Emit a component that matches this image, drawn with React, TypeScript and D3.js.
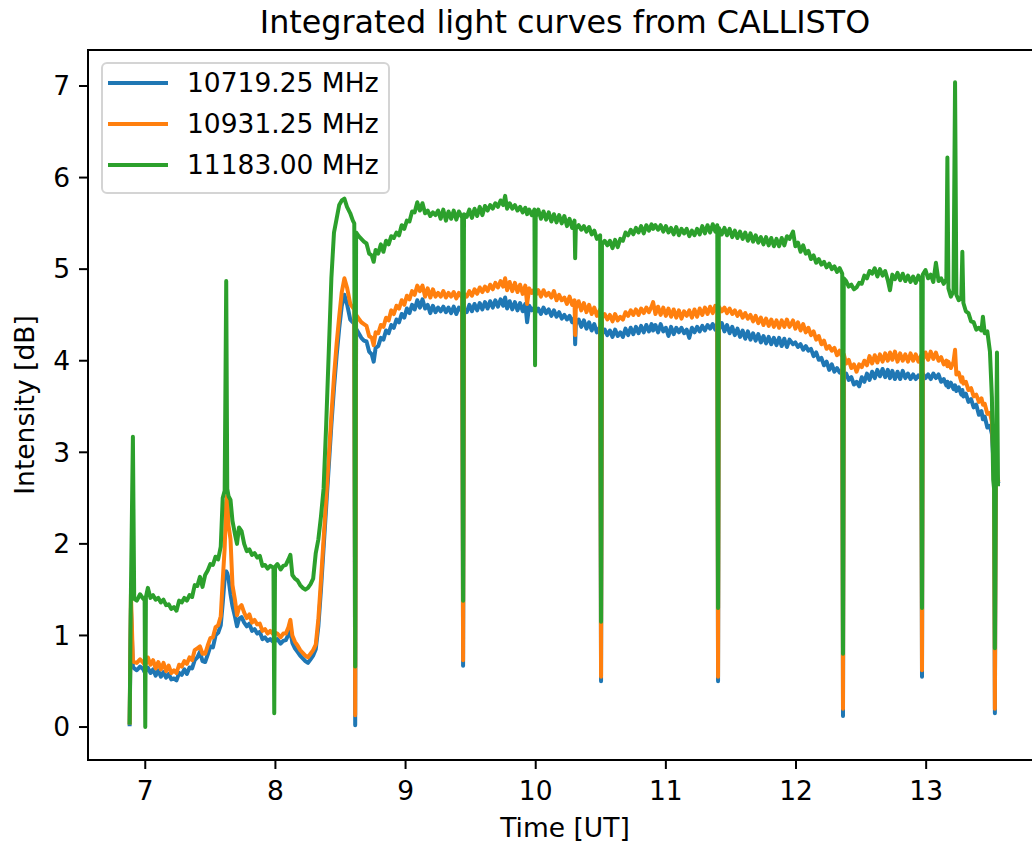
import React from 'react';
import * as d3 from 'd3';

// ---- data (time in UT hours, intensities in dB) ----
const times = [
  6.880, 6.890, 6.905, 6.915, 6.935, 6.960, 6.985, 6.995, 7.000, 7.005,
  7.020, 7.040, 7.060, 7.080, 7.100, 7.120, 7.140, 7.160, 7.180, 7.200,
  7.220, 7.240, 7.260, 7.280, 7.300, 7.320, 7.340, 7.360, 7.380, 7.400,
  7.420, 7.440, 7.460, 7.480, 7.500, 7.520, 7.540, 7.560, 7.580, 7.595,
  7.610, 7.622, 7.630, 7.640, 7.655, 7.670, 7.690, 7.705, 7.720, 7.740,
  7.760, 7.780, 7.800, 7.820, 7.840, 7.860, 7.880, 7.900, 7.920, 7.940,
  7.960, 7.985, 7.991, 7.997, 8.015, 8.040, 8.060, 8.080, 8.100, 8.115,
  8.130, 8.150, 8.170, 8.190, 8.210, 8.230, 8.250, 8.270, 8.290, 8.310,
  8.330, 8.350, 8.370, 8.390, 8.410, 8.430, 8.450, 8.470, 8.490, 8.510,
  8.530, 8.550, 8.575, 8.595, 8.606, 8.613, 8.620, 8.640, 8.660, 8.680,
  8.700, 8.720, 8.740, 8.755, 8.770, 8.790, 8.810, 8.830, 8.850, 8.870,
  8.890, 8.910, 8.930, 8.950, 8.970, 8.990, 9.010, 9.030, 9.050, 9.070,
  9.090, 9.110, 9.130, 9.150, 9.170, 9.190, 9.210, 9.230, 9.250, 9.270,
  9.290, 9.310, 9.330, 9.350, 9.370, 9.390, 9.410, 9.435, 9.442, 9.449,
  9.470, 9.490, 9.510, 9.530, 9.550, 9.570, 9.590, 9.610, 9.630, 9.650,
  9.670, 9.690, 9.710, 9.730, 9.750, 9.765, 9.780, 9.800, 9.820, 9.840,
  9.860, 9.880, 9.900, 9.920, 9.934, 9.950, 9.970, 9.990, 9.995, 10.000,
  10.020, 10.040, 10.060, 10.080, 10.100, 10.120, 10.140, 10.160, 10.180, 10.200,
  10.220, 10.240, 10.260, 10.280, 10.298, 10.303, 10.308, 10.330, 10.350, 10.370,
  10.390, 10.410, 10.430, 10.450, 10.470, 10.495, 10.502, 10.509, 10.530, 10.550,
  10.570, 10.590, 10.610, 10.630, 10.650, 10.670, 10.690, 10.710, 10.730, 10.750,
  10.770, 10.790, 10.810, 10.830, 10.850, 10.870, 10.890, 10.902, 10.920, 10.940,
  10.960, 10.980, 11.000, 11.020, 11.040, 11.060, 11.080, 11.100, 11.120, 11.140,
  11.160, 11.180, 11.200, 11.220, 11.240, 11.260, 11.280, 11.300, 11.320, 11.340,
  11.360, 11.380, 11.395, 11.401, 11.407, 11.430, 11.450, 11.470, 11.490, 11.510,
  11.530, 11.550, 11.570, 11.590, 11.610, 11.630, 11.650, 11.670, 11.690, 11.710,
  11.730, 11.750, 11.770, 11.790, 11.810, 11.830, 11.850, 11.870, 11.890, 11.910,
  11.930, 11.950, 11.977, 11.995, 12.015, 12.035, 12.055, 12.075, 12.095, 12.115,
  12.135, 12.155, 12.175, 12.195, 12.215, 12.235, 12.255, 12.275, 12.295, 12.315,
  12.335, 12.355, 12.361, 12.367, 12.385, 12.405, 12.425, 12.445, 12.465, 12.485,
  12.505, 12.525, 12.545, 12.565, 12.585, 12.605, 12.625, 12.645, 12.665, 12.685,
  12.705, 12.722, 12.740, 12.760, 12.780, 12.800, 12.820, 12.840, 12.860, 12.880,
  12.900, 12.920, 12.940, 12.962, 12.968, 12.974, 12.995, 13.015, 13.035, 13.055,
  13.075, 13.095, 13.115, 13.135, 13.155, 13.163, 13.171, 13.190, 13.210, 13.222,
  13.232, 13.250, 13.270, 13.278, 13.286, 13.305, 13.325, 13.345, 13.365, 13.385,
  13.405, 13.425, 13.436, 13.450, 13.470, 13.490, 13.505, 13.515, 13.522, 13.528,
  13.535, 13.544, 13.552,
];

const blue10719 = [
  0.03, 1.30, 0.66, 0.64, 0.62, 0.66, 0.63, 0.60, 0.60, 0.62,
  0.65, 0.59, 0.63, 0.56, 0.62, 0.55, 0.60, 0.54, 0.58, 0.52,
  0.53, 0.51, 0.59, 0.57, 0.63, 0.58, 0.65, 0.64, 0.73, 0.76,
  0.82, 0.72, 0.71, 0.79, 0.88, 0.87, 1.00, 1.03, 1.11, 1.35,
  1.62, 1.70, 1.68, 1.62, 1.45, 1.32, 1.20, 1.10, 1.18, 1.20,
  1.14, 1.10, 1.13, 1.05, 1.07, 1.02, 1.04, 0.96, 0.98, 0.94,
  0.96, 0.93, 0.95, 0.94, 0.96, 0.91, 0.94, 0.95, 1.01, 1.05,
  0.92, 0.86, 0.82, 0.78, 0.75, 0.72, 0.70, 0.74, 0.78, 0.85,
  1.10, 1.50, 1.95, 2.40, 2.85, 3.30, 3.70, 4.05, 4.35, 4.60,
  4.72, 4.62, 4.45, 4.42, 4.40, 0.02, 4.35, 4.30, 4.25, 4.22,
  4.21, 4.10, 4.07, 3.99, 4.14, 4.16, 4.25, 4.23, 4.33, 4.30,
  4.39, 4.36, 4.45, 4.42, 4.51, 4.47, 4.57, 4.52, 4.61, 4.56,
  4.66, 4.58, 4.67, 4.57, 4.61, 4.52, 4.60, 4.53, 4.58, 4.54,
  4.59, 4.53, 4.58, 4.52, 4.59, 4.51, 4.58, 4.54, 0.67, 4.56,
  4.53, 4.61, 4.54, 4.62, 4.55, 4.63, 4.56, 4.64, 4.57, 4.65,
  4.58, 4.66, 4.59, 4.67, 4.60, 4.69, 4.57, 4.65, 4.56, 4.64,
  4.55, 4.63, 4.54, 4.62, 4.42, 4.60, 4.55, 4.58, 4.55, 4.53,
  4.57, 4.51, 4.58, 4.52, 4.56, 4.49, 4.55, 4.48, 4.53, 4.46,
  4.50, 4.45, 4.49, 4.42, 4.47, 4.18, 4.40, 4.45, 4.37, 4.44,
  4.35, 4.42, 4.33, 4.40, 4.31, 4.37, 0.50, 4.29, 4.34, 4.28,
  4.33, 4.26, 4.34, 4.27, 4.31, 4.26, 4.35, 4.28, 4.36, 4.29,
  4.37, 4.30, 4.38, 4.31, 4.39, 4.32, 4.40, 4.33, 4.39, 4.31,
  4.40, 4.32, 4.36, 4.27, 4.37, 4.29, 4.36, 4.31, 4.36, 4.30,
  4.34, 4.25, 4.36, 4.31, 4.37, 4.32, 4.38, 4.33, 4.39, 4.35,
  4.40, 4.34, 4.40, 0.50, 4.34, 4.41, 4.32, 4.39, 4.30, 4.37,
  4.28, 4.35, 4.26, 4.33, 4.24, 4.32, 4.23, 4.30, 4.22, 4.29,
  4.20, 4.27, 4.19, 4.26, 4.18, 4.25, 4.17, 4.25, 4.16, 4.24,
  4.15, 4.23, 4.18, 4.20, 4.15, 4.18, 4.12, 4.16, 4.11, 4.13,
  4.05, 4.09, 4.01, 4.03, 3.95, 3.99, 3.90, 3.96, 3.88, 3.92,
  3.87, 3.90, 0.12, 3.84, 3.86, 3.79, 3.82, 3.74, 3.77, 3.72,
  3.82, 3.77, 3.86, 3.79, 3.88, 3.81, 3.90, 3.83, 3.91, 3.82,
  3.90, 3.81, 3.89, 3.80, 3.88, 3.80, 3.89, 3.81, 3.86, 3.80,
  3.85, 3.80, 3.84, 3.80, 0.55, 3.86, 3.81, 3.85, 3.80, 3.86,
  3.81, 3.85, 3.77, 3.80, 3.73, 3.77, 3.71, 3.76, 3.69, 3.73,
  3.67, 3.71, 3.63, 3.68, 3.61, 3.64, 3.55, 3.58, 3.49, 3.52,
  3.41, 3.45, 3.36, 3.39, 3.27, 3.29, 3.20, 2.95, 2.75, 0.15,
  2.70, 2.72, 2.68,
];

const orange10931 = [
  0.05, 1.45, 0.72, 0.71, 0.70, 0.74, 0.70, 0.68, 0.68, 0.69,
  0.76, 0.68, 0.73, 0.64, 0.71, 0.63, 0.70, 0.61, 0.67, 0.59,
  0.62, 0.59, 0.68, 0.66, 0.72, 0.69, 0.76, 0.73, 0.84, 0.86,
  0.88, 0.80, 0.80, 0.89, 0.97, 0.98, 1.09, 1.11, 1.21, 1.60,
  1.95, 2.45, 2.53, 2.20, 2.05, 1.55, 1.38, 1.22, 1.30, 1.33,
  1.25, 1.19, 1.23, 1.14, 1.17, 1.12, 1.13, 1.05, 1.07, 1.02,
  1.05, 1.01, 1.02, 1.03, 1.02, 0.98, 1.02, 1.02, 1.09, 1.17,
  1.00, 0.93, 0.89, 0.84, 0.81, 0.78, 0.76, 0.80, 0.84, 0.90,
  1.18, 1.60, 2.05, 2.50, 2.95, 3.40, 3.82, 4.18, 4.48, 4.75,
  4.90, 4.80, 4.62, 4.58, 4.56, 0.13, 4.50, 4.46, 4.42, 4.40,
  4.38, 4.27, 4.25, 4.17, 4.31, 4.30, 4.39, 4.37, 4.47, 4.44,
  4.55, 4.51, 4.60, 4.57, 4.66, 4.61, 4.71, 4.67, 4.76, 4.72,
  4.82, 4.76, 4.82, 4.70, 4.79, 4.69, 4.78, 4.70, 4.74, 4.70,
  4.76, 4.69, 4.74, 4.70, 4.75, 4.68, 4.74, 4.69, 0.73, 4.73,
  4.70, 4.76, 4.71, 4.78, 4.73, 4.80, 4.75, 4.81, 4.76, 4.83,
  4.78, 4.85, 4.80, 4.87, 4.81, 4.90, 4.77, 4.86, 4.76, 4.85,
  4.75, 4.83, 4.73, 4.82, 4.62, 4.79, 4.74, 4.78, 4.74, 4.72,
  4.77, 4.70, 4.77, 4.71, 4.74, 4.69, 4.76, 4.66, 4.72, 4.66,
  4.69, 4.62, 4.70, 4.61, 4.66, 4.28, 4.57, 4.65, 4.55, 4.63,
  4.53, 4.61, 4.51, 4.58, 4.49, 4.56, 0.55, 4.47, 4.51, 4.45,
  4.50, 4.43, 4.51, 4.44, 4.48, 4.45, 4.53, 4.49, 4.55, 4.50,
  4.56, 4.50, 4.57, 4.52, 4.58, 4.53, 4.59, 4.64, 4.51, 4.59,
  4.50, 4.58, 4.49, 4.57, 4.48, 4.56, 4.47, 4.55, 4.46, 4.54,
  4.49, 4.55, 4.47, 4.56, 4.48, 4.57, 4.50, 4.58, 4.51, 4.59,
  4.52, 4.60, 4.53, 0.55, 4.59, 4.54, 4.58, 4.52, 4.57, 4.51,
  4.55, 4.49, 4.54, 4.47, 4.52, 4.46, 4.50, 4.43, 4.49, 4.41,
  4.47, 4.39, 4.46, 4.38, 4.45, 4.37, 4.44, 4.36, 4.44, 4.37,
  4.45, 4.37, 4.44, 4.35, 4.42, 4.33, 4.40, 4.31, 4.36, 4.28,
  4.32, 4.23, 4.27, 4.18, 4.22, 4.13, 4.16, 4.11, 4.14, 4.06,
  4.11, 4.04, 0.20, 4.07, 3.97, 4.01, 3.92, 3.96, 3.88, 3.96,
  3.93, 4.00, 3.95, 4.05, 3.97, 4.06, 3.98, 4.07, 3.99, 4.08,
  4.00, 4.09, 4.01, 4.10, 3.99, 4.08, 4.00, 4.07, 3.99, 4.08,
  4.00, 4.07, 3.99, 4.06, 0.62, 4.01, 4.09, 4.01, 4.10, 4.02,
  4.09, 4.00, 4.04, 3.96, 4.00, 3.94, 3.99, 3.92, 3.99, 4.12,
  3.85, 3.87, 3.77, 3.82, 3.75, 3.77, 3.68, 3.70, 3.61, 3.63,
  3.55, 3.59, 3.52, 3.53, 3.42, 3.43, 3.33, 3.00, 2.75, 0.20,
  2.72, 2.76, 2.70,
];

const green11183 = [
  0.05, 1.50, 3.17, 1.40, 1.38, 1.45, 1.40, 1.40, 0.00, 1.42,
  1.52, 1.41, 1.44, 1.39, 1.41, 1.36, 1.39, 1.33, 1.34, 1.29,
  1.31, 1.27, 1.38, 1.36, 1.41, 1.38, 1.44, 1.42, 1.55, 1.54,
  1.64, 1.53, 1.66, 1.71, 1.78, 1.77, 1.86, 1.83, 1.97, 2.50,
  2.58, 4.87, 2.60, 2.52, 2.48, 2.25, 2.10, 2.00, 2.18, 2.14,
  2.00, 1.92, 1.94, 1.88, 1.90, 1.85, 1.87, 1.76, 1.77, 1.73,
  1.76, 1.74, 0.15, 1.75, 1.78, 1.72, 1.76, 1.77, 1.83, 1.88,
  1.66, 1.62, 1.60, 1.55, 1.52, 1.50, 1.52, 1.56, 1.62, 1.90,
  2.05, 2.30, 2.60, 3.30, 4.10, 4.90, 5.40, 5.55, 5.70, 5.75,
  5.77, 5.68, 5.61, 5.53, 5.50, 0.66, 5.40, 5.36, 5.33, 5.30,
  5.28, 5.17, 5.15, 5.08, 5.21, 5.17, 5.27, 5.19, 5.31, 5.27,
  5.36, 5.34, 5.40, 5.37, 5.48, 5.44, 5.53, 5.52, 5.63, 5.62,
  5.73, 5.64, 5.72, 5.61, 5.64, 5.58, 5.62, 5.59, 5.64, 5.55,
  5.65, 5.53, 5.63, 5.55, 5.64, 5.54, 5.63, 5.56, 1.38, 5.60,
  5.57, 5.65, 5.56, 5.66, 5.58, 5.68, 5.59, 5.69, 5.64, 5.70,
  5.66, 5.72, 5.68, 5.75, 5.70, 5.80, 5.66, 5.72, 5.66, 5.70,
  5.64, 5.68, 5.62, 5.67, 5.60, 5.65, 5.59, 5.65, 3.95, 5.57,
  5.65, 5.55, 5.63, 5.54, 5.62, 5.52, 5.60, 5.51, 5.59, 5.50,
  5.58, 5.47, 5.55, 5.45, 5.53, 5.12, 5.44, 5.48, 5.43, 5.47,
  5.41, 5.46, 5.38, 5.42, 5.33, 5.37, 1.15, 5.27, 5.31, 5.26,
  5.31, 5.23, 5.32, 5.24, 5.33, 5.31, 5.40, 5.37, 5.43, 5.38,
  5.45, 5.40, 5.47, 5.39, 5.48, 5.42, 5.49, 5.44, 5.48, 5.43,
  5.48, 5.41, 5.47, 5.40, 5.45, 5.38, 5.46, 5.37, 5.44, 5.39,
  5.44, 5.36, 5.42, 5.37, 5.44, 5.38, 5.47, 5.39, 5.48, 5.40,
  5.49, 5.41, 5.48, 1.30, 5.45, 5.38, 5.45, 5.37, 5.44, 5.35,
  5.42, 5.34, 5.41, 5.33, 5.40, 5.31, 5.39, 5.30, 5.37, 5.29,
  5.35, 5.27, 5.35, 5.26, 5.34, 5.25, 5.33, 5.25, 5.34, 5.26,
  5.36, 5.33, 5.41, 5.25, 5.29, 5.19, 5.26, 5.17, 5.20, 5.11,
  5.15, 5.07, 5.11, 5.05, 5.08, 5.02, 5.06, 5.00, 5.03, 4.97,
  5.01, 4.95, 0.80, 4.90, 4.87, 4.81, 4.83, 4.78, 4.80, 4.85,
  4.84, 4.93, 4.90, 4.98, 4.95, 5.01, 4.92, 5.00, 4.93, 4.98,
  4.88, 4.77, 4.94, 4.89, 4.96, 4.88, 4.95, 4.87, 4.93, 4.86,
  4.92, 4.85, 4.93, 4.86, 1.30, 4.94, 4.99, 4.90, 4.94, 4.86,
  5.07, 4.87, 4.90, 4.84, 4.89, 6.22, 4.79, 4.70, 4.76, 7.04,
  4.72, 4.66, 4.69, 5.19, 4.63, 4.54, 4.52, 4.43, 4.42, 4.34,
  4.36, 4.33, 4.48, 4.30, 4.32, 4.10, 3.60, 2.70, 2.60, 0.86,
  2.65, 4.09, 2.65,
];

const seriesLabels = ['10719.25 MHz', '10931.25 MHz', '11183.00 MHz'];
const seriesColors = ['#1f77b4', '#ff7f0e', '#2ca02c'];
const xTicks = [7, 8, 9, 10, 11, 12, 13];
const yTicks = [0, 1, 2, 3, 4, 5, 6, 7];
const titleText = 'Integrated light curves from CALLISTO';
const xLabelText = 'Time [UT]';
const yLabelText = 'Intensity [dB]';

export default function App() {
  const W = 1032;
  const H = 844;
  const left = 88, right = 1042, top = 50, bottom = 760;
  const font = 'DejaVu Sans, Liberation Sans, sans-serif';
  const fs = 26.5;

  const x = d3.scaleLinear().domain([6.56, 13.89]).range([left, right]);
  const y = d3.scaleLinear().domain([-0.36, 7.393]).range([bottom, top]);

  const series = [blue10719, orange10931, green11183];
  const lineGen = (vals: number[]) =>
    d3.line<number>()
      .x((_, i) => x(times[i]))
      .y((d) => y(d))(vals) || '';

  const tickLen = 9;

  return (
    <svg
      width={W}
      height={H}
      style={{ position: 'absolute', left: 0, top: 0, background: '#fff' }}
      fontFamily={font}
    >
      <rect x={0} y={0} width={W} height={H} fill="#fff" />
      <defs>
        <clipPath id="plotArea">
          <rect x={left} y={top} width={right - left} height={bottom - top} />
        </clipPath>
      </defs>

      <g clipPath="url(#plotArea)">
        {series.map((vals, k) => (
          <path
            key={k}
            d={lineGen(vals)}
            fill="none"
            stroke={seriesColors[k]}
            strokeWidth={4}
            strokeLinejoin="round"
            strokeLinecap="square"
          />
        ))}
      </g>

      {/* spines */}
      <rect x={left} y={top} width={right - left} height={bottom - top} fill="none" stroke="#000" strokeWidth={2} />

      {/* x ticks */}
      {xTicks.map((t) => (
        <g key={'x' + t}>
          <line x1={x(t)} x2={x(t)} y1={bottom} y2={bottom + tickLen} stroke="#000" strokeWidth={2} />
          <text x={x(t)} y={bottom + 40} textAnchor="middle" fontSize={fs} fill="#000">
            {t}
          </text>
        </g>
      ))}

      {/* y ticks */}
      {yTicks.map((v) => (
        <g key={'y' + v}>
          <line x1={left - tickLen} x2={left} y1={y(v)} y2={y(v)} stroke="#000" strokeWidth={2} />
          <text x={left - tickLen - 9} y={y(v)} dy="0.35em" textAnchor="end" fontSize={fs} fill="#000">
            {v}
          </text>
        </g>
      ))}

      {/* axis labels */}
      <text x={(left + right) / 2} y={837} textAnchor="middle" fontSize={fs} fill="#000">
        {xLabelText}
      </text>
      <text
        transform={`translate(34, ${(top + bottom) / 2}) rotate(-90)`}
        textAnchor="middle"
        fontSize={fs}
        fill="#000"
      >
        {yLabelText}
      </text>

      {/* title */}
      <text x={(left + right) / 2} y={33} textAnchor="middle" fontSize={31.8} fill="#000">
        {titleText}
      </text>

      {/* legend */}
      <g>
        <rect x={102} y={63} width={287} height={130} rx={5} ry={5}
          fill="#fff" fillOpacity={0.8} stroke="#d4d4d4" strokeWidth={2} />
        {seriesLabels.map((lab, k) => {
          const ly = 83 + k * 41;
          return (
            <g key={lab}>
              <line x1={110} x2={166} y1={ly} y2={ly} stroke={seriesColors[k]} strokeWidth={4} strokeLinecap="square" />
              <text x={187} y={ly} dy="0.35em" fontSize={fs} fill="#000">
                {lab}
              </text>
            </g>
          );
        })}
      </g>
    </svg>
  );
}
